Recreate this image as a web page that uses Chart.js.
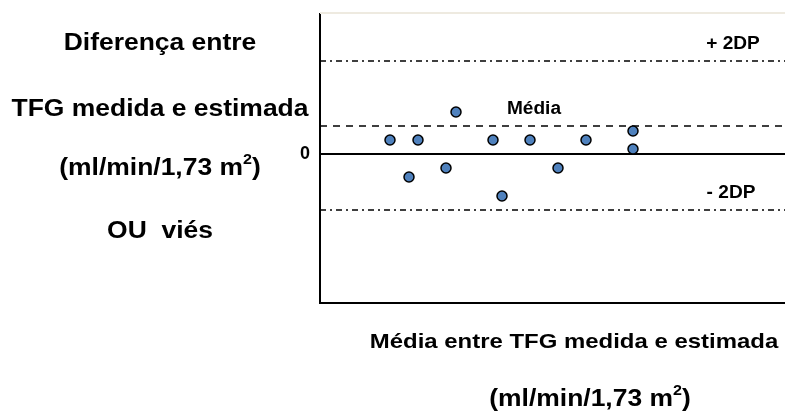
<!DOCTYPE html>
<html><head><meta charset="utf-8">
<script src="https://cdn.jsdelivr.net/npm/chart.js@4/dist/chart.umd.min.js"></script>
<style>html,body{margin:0;padding:0;background:#fff}#wrap{width:785px;height:411px;position:relative}</style>
</head><body><div id="wrap"><canvas id="c" width="785" height="411"></canvas></div>
<script>
// ---- data ----
const pointX = [7.0, 8.9, 9.8, 12.6, 13.6, 17.3, 18.2, 21.0, 23.8, 26.6, 31.3, 31.3];
const pointY = [1.4, -2.3, 1.4, -1.4, 4.2, 1.4, -4.2, 1.4, -1.4, 1.4, 2.3, 0.5];
const meanDiff = 2.8;
const upperLimit = 9.3;
const lowerLimit = -5.6;
const zeroLine = 0;
const xRange = [0, 46.5];
const yRange = [-14.9, 14];
const yTicks = [0];
const limitLabels = ['+ 2DP', 'Média', '- 2DP'];
const limitLabelX = [41.3, 21.4, 41.1];
const yTitleLines = ['Diferença entre', 'TFG medida e estimada', '(ml/min/1,73 m²)', 'OU  viés'];
const xTitleLines = ['Média entre TFG medida e estimada', '(ml/min/1,73 m²)'];

const FONT = '"Liberation Sans", Arial, Helvetica, sans-serif';

function drawText(ctx, text, cx, cy, size, sx) {
  ctx.save();
  const supSize = Math.round(size * 0.62);
  const parts = text.split('²');
  const segs = [];
  parts.forEach((p, i) => { segs.push({ t: p, sup: false }); if (i < parts.length - 1) segs.push({ t: '2', sup: true }); });
  let w = 0;
  segs.forEach(s => { ctx.font = 'bold ' + (s.sup ? supSize : size) + 'px ' + FONT; s.w = ctx.measureText(s.t).width; w += s.w; });
  ctx.translate(cx, cy + size * 0.716 / 2);
  ctx.scale(sx, 1);
  ctx.textAlign = 'left';
  ctx.textBaseline = 'alphabetic';
  ctx.fillStyle = '#000';
  let x = -w / 2;
  segs.forEach(s => {
    ctx.font = 'bold ' + (s.sup ? supSize : size) + 'px ' + FONT;
    ctx.fillText(s.t, x, s.sup ? -size * 0.5 : 0);
    x += s.w;
  });
  ctx.restore();
}

const textPlugin = {
  id: 'texts',
  beforeDatasetsDraw(chart) {
    const { ctx, chartArea } = chart;
    ctx.save();
    ctx.strokeStyle = '#eeeae0';
    ctx.lineWidth = 2;
    ctx.beginPath();
    ctx.moveTo(chartArea.left, chartArea.top - 1);
    ctx.lineTo(chartArea.right, chartArea.top - 1);
    ctx.stroke();
    ctx.restore();
  },
  afterDraw(chart) {
    const { ctx } = chart;
    const xs = chart.scales.x, ys = chart.scales.y;
    const limits = [upperLimit, meanDiff, lowerLimit];
    limitLabels.forEach((t, i) => {
      drawText(ctx, t, xs.getPixelForValue(limitLabelX[i]), ys.getPixelForValue(limits[i]) - 18, 18, 1.06);
    });
    const yTitleY = [42, 108, 167, 230];
    yTitleLines.forEach((t, i) => drawText(ctx, t, 160, yTitleY[i], 23, 1.15));
    drawText(ctx, xTitleLines[0], 574, 340, 21, 1.14);
    drawText(ctx, xTitleLines[1], 590, 398, 23, 1.15);
  }
};

function hline(v, dash, width) {
  return {
    type: 'line',
    data: [{ x: xRange[0], y: v }, { x: xRange[1], y: v }],
    borderColor: '#000', borderWidth: width, borderDash: dash,
    pointRadius: 0, fill: false, order: 2
  };
}

new Chart(document.getElementById('c'), {
  type: 'scatter',
  data: {
    datasets: [
      {
        type: 'scatter',
        data: pointX.map((x, i) => ({ x, y: pointY[i] })),
        backgroundColor: '#4f81bd', borderColor: '#000', borderWidth: 1.5,
        pointRadius: 5, order: 1
      },
      hline(zeroLine, [], 2),
      hline(meanDiff, [7, 6], 1.5),
      hline(upperLimit, [6, 4, 2, 4], 1.5),
      hline(lowerLimit, [6, 4, 2, 4], 1.5)
    ]
  },
  options: {
    responsive: false, animation: false, devicePixelRatio: 1,
    layout: { autoPadding: false, padding: { top: 14, right: 0, bottom: 0, left: 0 } },
    plugins: { legend: { display: false }, tooltip: { enabled: false } },
    scales: {
      x: {
        type: 'linear', min: xRange[0], max: xRange[1],
        grid: { display: false, drawTicks: false },
        border: { display: true, color: '#000', width: 2 },
        ticks: { display: false },
        afterFit(s) { s.height = 108; s.paddingLeft = 0; s.paddingRight = 0; }
      },
      y: {
        type: 'linear', min: yRange[0], max: yRange[1],
        grid: { display: false, drawTicks: false },
        border: { display: true, color: '#000', width: 2 },
        ticks: { padding: 10, color: '#000', font: { family: FONT, size: 18, weight: 'bold' }, callback: v => String(v) },
        afterBuildTicks(s) { s.ticks = yTicks.map(v => ({ value: v })); },
        afterFit(s) { s.width = 320; s.paddingTop = 0; s.paddingBottom = 0; }
      }
    }
  },
  plugins: [textPlugin]
});
</script>
</body></html>
